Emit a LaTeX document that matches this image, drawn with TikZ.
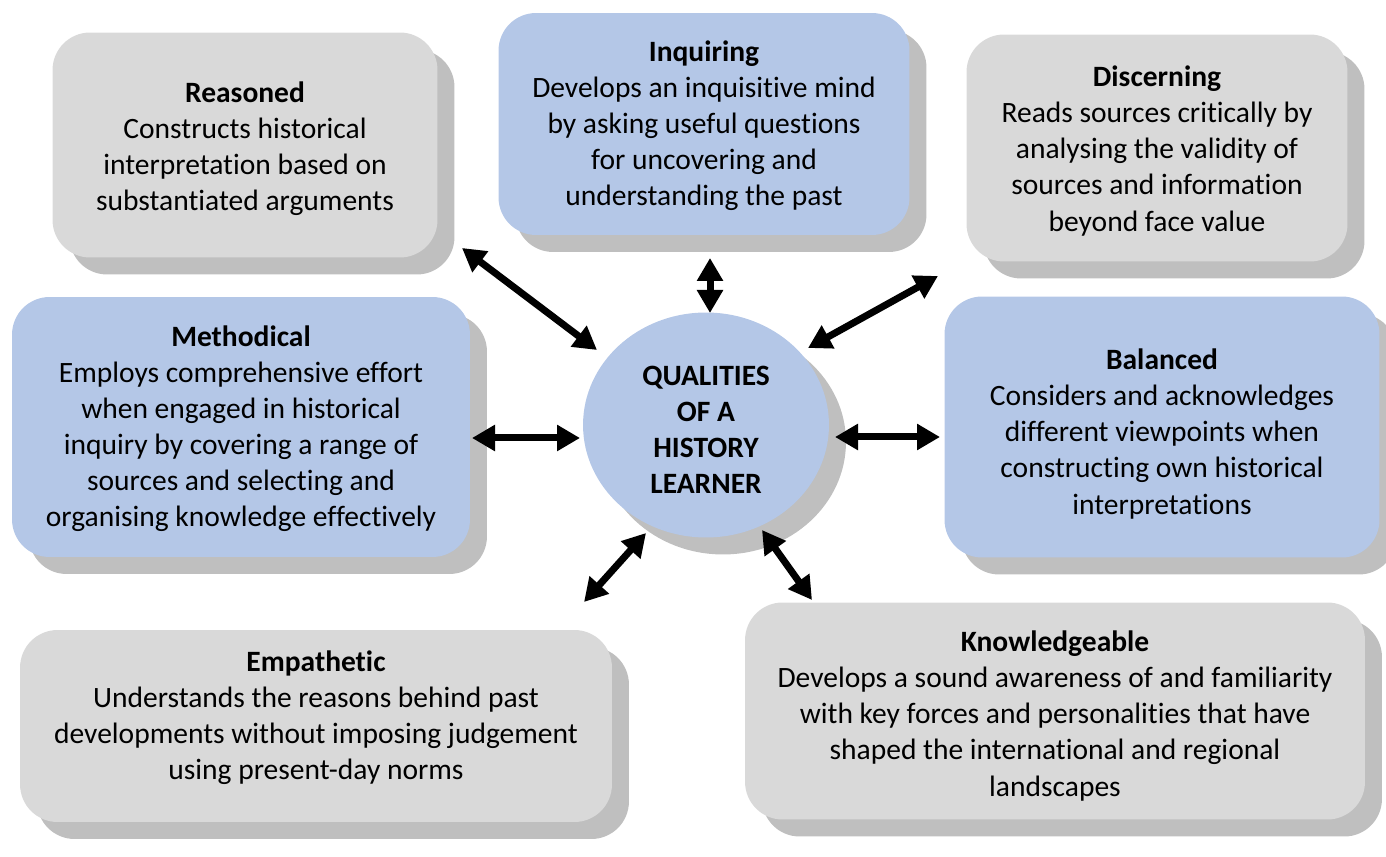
\documentclass[tikz,border=0pt]{standalone}
\usepackage{fontspec}
\setmainfont{Carlito}[Ligatures=NoCommon]
\usetikzlibrary{arrows.meta,shadows,shapes.geometric}

\definecolor{boxgrey}{HTML}{D9D9D9}
\definecolor{boxblue}{HTML}{B4C7E7}
\definecolor{shadowgrey}{HTML}{BFBFBF}

\tikzset{
    quality/.style={rounded corners=0.75cm, inner sep=0pt,
        drop shadow={shadow xshift=0.34cm, shadow yshift=-0.34cm, fill=shadowgrey, opacity=1}},
    greybox/.style={quality, fill=boxgrey},
    bluebox/.style={quality, fill=boxblue},
    words/.style={align=center, inner sep=0pt, font=\fontsize{16.8}{20.5}\selectfont},
    link/.style={line width=0.14cm,
        {Triangle[length=0.46cm,width=0.5cm]}-{Triangle[length=0.46cm,width=0.5cm]}},
}

\begin{document}
\begin{tikzpicture}[x=0.02cm, y=-0.02cm]

    \useasboundingbox (0,0) rectangle (1386,857);

    % boxes
    \node[greybox, minimum width=7.7cm,  minimum height=4.5cm]  (reasoned)      at (245,145) {};
    \node[bluebox, minimum width=8.22cm, minimum height=4.44cm] (inquiring)     at (704,124) {};
    \node[greybox, minimum width=7.62cm, minimum height=4.54cm] (discerning)    at (1157,148) {};
    \node[bluebox, minimum width=9.16cm, minimum height=5.2cm]  (methodical)    at (241,427) {};
    \node[bluebox, minimum width=8.7cm,  minimum height=5.22cm] (balanced)      at (1162,427) {};
    \node[greybox, minimum width=11.84cm,minimum height=3.84cm] (empathetic)    at (316,726) {};
    \node[greybox, minimum width=12.4cm, minimum height=4.34cm] (knowledgeable) at (1055,711) {};
    \node[quality, ellipse, fill=boxblue, minimum width=4.92cm, minimum height=4.5cm] (centre) at (706,425) {};

    % texts
    \node[words] (reasoned-txt) at (245,149)
        {\textbf{Reasoned}\\Constructs historical\\interpretation based on\\substantiated arguments};
    \node[words] (inquiring-txt) at (704,126)
        {\textbf{Inquiring}\\Develops an inquisitive mind\\by asking useful questions\\for uncovering and\\understanding the past};
    \node[words] (discerning-txt) at (1157,151)
        {\textbf{Discerning}\\Reads sources critically by\\analysing the validity of\\sources and information\\beyond face value};
    \node[words] (methodical-txt) at (241,429)
        {\textbf{Methodical}\\Employs comprehensive effort\\when engaged in historical\\inquiry by covering a range of\\sources and selecting and\\organising knowledge effectively};
    \node[words] (balanced-txt) at (1162,434)
        {\textbf{Balanced}\\Considers and acknowledges\\different viewpoints when\\constructing own historical\\interpretations};
    \node[words] (empathetic-txt) at (316,718)
        {\textbf{Empathetic}\\Understands the reasons behind past\\developments without imposing judgement\\using present-day norms};
    \node[words] (knowledgeable-txt) at (1055,716)
        {\textbf{Knowledgeable}\\Develops a sound awareness of and familiarity\\with key forces and personalities that have\\shaped the international and regional\\landscapes};
    \node[words, font=\fontsize{16.8}{20.5}\selectfont\bfseries] (centre-txt) at (706,430)
        {QUALITIES\\OF A\\HISTORY\\LEARNER};

    % arrow ends
    \coordinate (rs-a) at (462,248);   \coordinate (rs-b) at (597,350);
    \coordinate (iq-a) at (710,258);   \coordinate (iq-b) at (710,313);
    \coordinate (ds-a) at (938,276);   \coordinate (ds-b) at (808,348);
    \coordinate (me-a) at (472,438);   \coordinate (me-b) at (580,438);
    \coordinate (ba-a) at (940,437);   \coordinate (ba-b) at (835,437);
    \coordinate (em-a) at (584,602);   \coordinate (em-b) at (646,533);
    \coordinate (kn-a) at (812,600);   \coordinate (kn-b) at (762,530);

    \draw[link] (rs-a) -- (rs-b);
    \draw[link] (iq-a) -- (iq-b);
    \draw[link] (ds-a) -- (ds-b);
    \draw[link] (me-a) -- (me-b);
    \draw[link] (ba-a) -- (ba-b);
    \draw[link] (em-a) -- (em-b);
    \draw[link] (kn-a) -- (kn-b);

\end{tikzpicture}
\end{document}
